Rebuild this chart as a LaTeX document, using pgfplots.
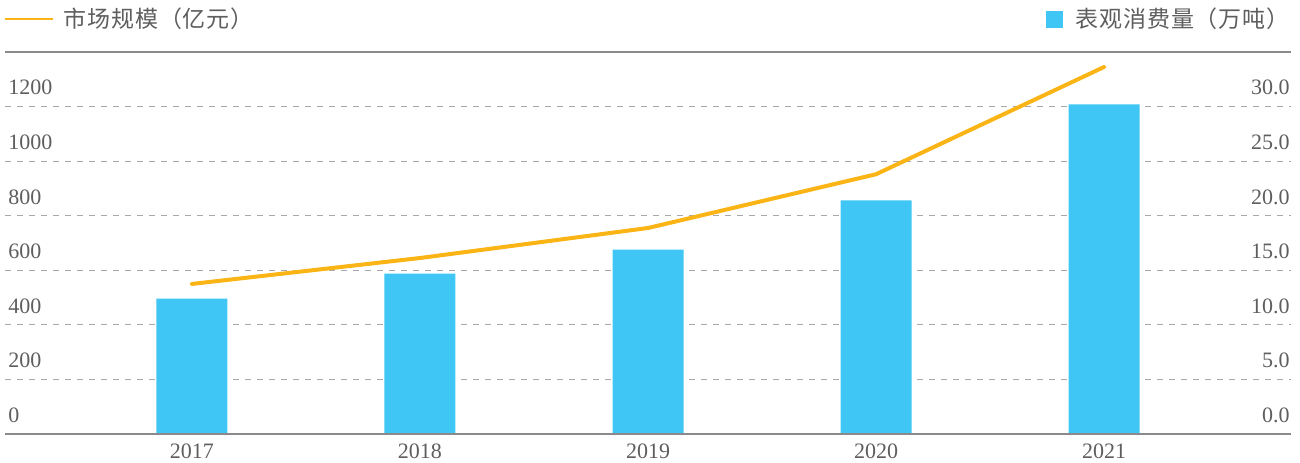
\documentclass[border=0pt]{standalone}
\usepackage{pgfplots}
\pgfplotsset{compat=1.18}
\usepackage{fontspec}
\setmainfont{Liberation Serif}
\newfontfamily\cjk[LetterSpace=4]{Noto Sans CJK SC}
\definecolor{barblue}{HTML}{40C6F4}
\definecolor{lineor}{HTML}{FBB416}
\definecolor{txtgray}{HTML}{5E5E5E}
\definecolor{gridgray}{HTML}{A8A8A8}
\definecolor{axgray}{HTML}{8A8A8A}
\begin{document}
\begin{tikzpicture}
\path[use as bounding box] (-2.5pt,-14pt) rectangle (647.5pt,217pt);
% bars, right axis
\begin{axis}[
  at={(0,0)}, anchor=south west,
  scale only axis, width=643pt, height=191pt,
  xmin=-0.82, xmax=4.82, ymin=0, ymax=35,
  axis x line=none,
  axis y line*=right,
  y axis line style={draw=none},
  ytick={0,5,10,15,20,25,30},
  major tick length=0pt,
  ymajorgrids,
  grid style={gridgray, line width=0.6pt, dash pattern=on 3pt off 3pt},
  /pgf/number format/assume math mode=true,
  yticklabel={\pgfmathprintnumber[fixed,fixed zerofill,precision=1]{\tick}},
  yticklabel style={anchor=south east, inner sep=0pt, xshift=-0.5pt, yshift=5.5pt, font=\fontsize{11}{13}\selectfont, text=txtgray},
]
\addplot[ybar, bar width=35.5pt, fill=barblue, draw=none] coordinates {(0,12.4) (1,14.7) (2,16.9) (3,21.4) (4,30.2)};
\end{axis}
% line, left axis
\begin{axis}[
  at={(0,0)}, anchor=south west,
  scale only axis, width=643pt, height=191pt,
  xmin=-0.82, xmax=4.82, ymin=0, ymax=1400,
  axis x line*=bottom,
  x axis line style={axgray, line width=0.8pt, -},
  axis y line*=left,
  y axis line style={draw=none},
  ytick={0,200,400,600,800,1000,1200},
  xtick={0,1,2,3,4},
  xticklabels={2017,2018,2019,2020,2021},
  major tick length=0pt,
  /pgf/number format/assume math mode=true,
  /pgf/number format/set thousands separator={},
  yticklabel style={anchor=south west, inner sep=0pt, xshift=1.5pt, yshift=5.5pt, font=\fontsize{11}{13}\selectfont, text=txtgray},
  xticklabel style={anchor=north, inner sep=0pt, yshift=-4.5pt, font=\fontsize{11}{13}\selectfont, text=txtgray},
]
\addplot[lineor, line width=2pt, line join=round, line cap=round, mark=none] coordinates {(0,550) (1,645) (2,755) (3,952) (4,1345)};
\end{axis}
% top rule
\draw[axgray, line width=0.6pt] (0,191pt) -- (643pt,191pt);
% legends
\draw[lineor, line width=0.6pt] (0,207.5pt) -- (24pt,207.5pt);
\node[anchor=west, inner sep=0pt, text=txtgray, font=\cjk\fontsize{11.5}{13}\selectfont] at (29pt,207.5pt) {市场规模（亿元）};
\fill[barblue] (520.5pt,203pt) rectangle (529pt,211.5pt);
\node[anchor=west, inner sep=0pt, text=txtgray, font=\cjk\fontsize{11.5}{13}\selectfont] at (535pt,207.5pt) {表观消费量（万吨）};
\end{tikzpicture}
\end{document}
